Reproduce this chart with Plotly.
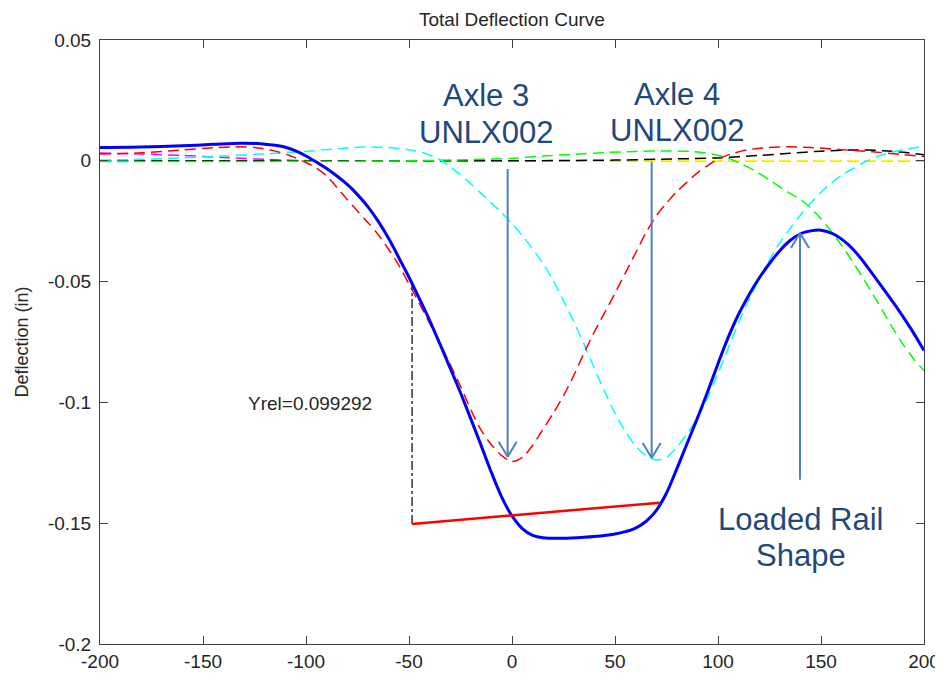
import plotly.graph_objects as go

# ---------------- data ----------------
total_x = [-200, -180, -160, -145, -132, -122, -115, -110, -105, -100, -95, -90, -85, -80, -75, -70, -65,
           -60, -55, -50, -45, -40, -35, -30, -25, -20, -15, -10, -5, 0, 5, 10, 15, 25, 35, 43, 50, 55,
           60, 65, 70, 75, 80, 85, 90, 95, 100, 105, 110, 115, 120, 125, 130, 135, 140, 145, 150, 156,
           163, 169, 175, 182, 188, 194, 200]
total_y = [0.0055, 0.0057, 0.0062, 0.0068, 0.0073, 0.0071, 0.0064, 0.0056, 0.0041, 0.0020, -0.0005,
           -0.0032, -0.0063, -0.0098, -0.0140, -0.0190, -0.0250, -0.0320, -0.0400, -0.0482, -0.0570,
           -0.0660, -0.0758, -0.0858, -0.0960, -0.1068, -0.1178, -0.1290, -0.1392, -0.1470, -0.1522,
           -0.1550, -0.1560, -0.1562, -0.1558, -0.1553, -0.1545, -0.1535, -0.1520, -0.1493, -0.1448,
           -0.1375, -0.1275, -0.1170, -0.1065, -0.0955, -0.0840, -0.0730, -0.0635, -0.0555, -0.0485,
           -0.0425, -0.0372, -0.0330, -0.0302, -0.0290, -0.0287, -0.0303, -0.0345, -0.0400, -0.0468,
           -0.0550, -0.0622, -0.0700, -0.0785]

axle3_x = [-200, -180, -160, -145, -135, -125, -115, -108, -100, -95, -90, -85, -80, -75, -70, -65, -60,
           -55, -50, -45, -40, -35, -30, -25, -20, -15, -10, -5, 0, 5, 10, 15, 20, 25, 30, 35, 40, 45,
           50, 55, 60, 65, 70, 75, 80, 85, 90, 95, 100, 107, 114, 124, 134, 145, 160, 175, 190, 200]
axle3_y = [0.0028, 0.0033, 0.0045, 0.0054, 0.0058, 0.0055, 0.0040, 0.0022, -0.0007, -0.0030, -0.0062,
           -0.0110, -0.0160, -0.0208, -0.0255, -0.0305, -0.0365, -0.0432, -0.0510, -0.0590, -0.0672,
           -0.0755, -0.0843, -0.0933, -0.1030, -0.1115, -0.1175, -0.1220, -0.1245, -0.1228, -0.1178,
           -0.1112, -0.1045, -0.0972, -0.0888, -0.0795, -0.0708, -0.0628, -0.0548, -0.0465, -0.0382,
           -0.0298, -0.0228, -0.0175, -0.0128, -0.0088, -0.0050, -0.0020, 0.0008, 0.0030, 0.0045,
           0.0055, 0.0058, 0.0055, 0.0046, 0.0037, 0.0026, 0.0018]

axle4_x = [-200, -180, -160, -140, -120, -100, -85, -72, -60, -50, -42, -35, -30, -25, -20, -15, -10,
           -5, 0, 5, 10, 15, 20, 25, 30, 35, 40, 45, 50, 55, 60, 65, 70, 75, 80, 85, 90, 95, 100, 105,
           110, 115, 120, 125, 130, 135, 140, 145, 150, 155, 160, 166, 172, 178, 184, 191, 200]
axle4_y = [0.0003, 0.0006, 0.0012, 0.0020, 0.0029, 0.0039, 0.0050, 0.0057, 0.0055, 0.0046, 0.0030,
           0.0005, -0.0025, -0.0058, -0.0095, -0.0135, -0.0175, -0.0215, -0.0260, -0.0310, -0.0365,
           -0.0425, -0.0495, -0.0580, -0.0665, -0.0760, -0.0860, -0.0955, -0.1045, -0.1120, -0.1180,
           -0.1220, -0.1238, -0.1228, -0.1185, -0.1130, -0.1065, -0.0980, -0.0880, -0.0775, -0.0670,
           -0.0575, -0.0490, -0.0410, -0.0340, -0.0280, -0.0225, -0.0175, -0.0130, -0.0092, -0.0060,
           -0.0030, -0.0002, 0.0020, 0.0035, 0.0048, 0.0060]

axle5_x = [-200, -150, -100, -50, -20, 0, 15, 30, 45, 60, 75, 88, 97, 105, 112, 119, 126, 133, 140, 145,
           150, 155, 160, 165, 170, 175, 180, 185, 190, 195, 200]
axle5_y = [-0.0003, -0.0003, -0.0002, 0.0000, 0.0005, 0.0010, 0.0020, 0.0027, 0.0034, 0.0039, 0.0041,
           0.0038, 0.0028, 0.0010, -0.0015, -0.0047, -0.0085, -0.0125, -0.0160, -0.0195, -0.0240,
           -0.0292, -0.0350, -0.0413, -0.0480, -0.0550, -0.0622, -0.0695, -0.0762, -0.0820, -0.0868]

black_x = [-200, -100, 0, 50, 80, 100, 120, 135, 150, 165, 180, 190, 200]
black_y = [0.0, 0.0, 0.0, 0.0003, 0.0008, 0.0012, 0.0022, 0.0031, 0.0040, 0.0045, 0.0042, 0.0035, 0.0025]

yellow_x = [-200, -100, 0, 100, 200]
yellow_y = [0.0, 0.0, 0.0, 0.0, 0.0]

magenta_x = [-200, -180, -160, -140, -120, -100, -50, 0, 100, 200]
magenta_y = [0.0032, 0.0028, 0.0022, 0.0014, 0.0006, 0.0001, 0.0, 0.0, 0.0, 0.0]

yrel_x = [-48.5, -48.5]
yrel_y = [-0.1503, -0.0514]
chord_x = [-48.5, 71.8]
chord_y = [-0.1503, -0.1415]
yrel_text = "Yrel=0.099292"

x_ticks = [-200, -150, -100, -50, 0, 50, 100, 150, 200]
x_tick_labels = ["-200", "-150", "-100", "-50", "0", "50", "100", "150", "200"]
y_ticks = [0.05, 0, -0.05, -0.1, -0.15, -0.2]
y_tick_labels = ["0.05", "0", "-0.05", "-0.1", "-0.15", "-0.2"]

# ---------------- figure ----------------
DASH = "11px,6px"
FONT = "Liberation Sans, Arial, sans-serif"
fig = go.Figure()

def dashed(x, y, color):
    fig.add_trace(go.Scatter(x=x, y=y, mode="lines",
                             line=dict(color=color, width=1.5, dash=DASH, shape="spline", smoothing=0.8),
                             hoverinfo="skip", showlegend=False))

dashed(magenta_x, magenta_y, "#FF00FF")
dashed(yellow_x, yellow_y, "#FFFF00")
dashed(black_x, black_y, "#000000")
dashed(axle5_x, axle5_y, "#00FF00")
dashed(axle4_x, axle4_y, "#00FFFF")
dashed(axle3_x, axle3_y, "#FF0000")

fig.add_trace(go.Scatter(x=yrel_x, y=yrel_y, mode="lines",
                         line=dict(color="#333333", width=1.5, dash="dashdot"), showlegend=False))
fig.add_trace(go.Scatter(x=total_x, y=total_y, mode="lines",
                         line=dict(color="#0000FF", width=3, shape="spline", smoothing=0.8), showlegend=False))
fig.add_trace(go.Scatter(x=chord_x, y=chord_y, mode="lines",
                         line=dict(color="#FF0000", width=2.5), showlegend=False))

TXT = "#1F497D"
ARR = "#4F81BD"
big = dict(family=FONT, size=31, color=TXT)

def label(x, y, t):
    fig.add_annotation(x=x, y=y, text=t, showarrow=False, font=big, xanchor="center", yanchor="middle")

label(-12.6, 0.0270, "Axle 3")
label(-12.6, 0.0118, "UNLX002")
label(80.1, 0.0274, "Axle 4")
label(80.1, 0.0126, "UNLX002")
label(140.2, -0.1485, "Loaded Rail")
label(140.2, -0.1632, "Shape")

def arrow(x, y_tail, y_tip):
    up = 1 if y_tip < y_tail else -1  # arms go back toward the tail
    fig.add_shape(type="line", x0=x, x1=x, y0=y_tail, y1=y_tip, xref="x", yref="y",
                  line=dict(color=ARR, width=2))
    for side in (-9, 9):
        fig.add_shape(type="line", xref="x", yref="y", xsizemode="pixel", ysizemode="pixel",
                      xanchor=x, yanchor=y_tip, x0=0, y0=0, x1=side, y1=15 * up,
                      line=dict(color=ARR, width=2))

arrow(-2.1, -0.0034, -0.1225)
arrow(67.8, -0.0005, -0.1230)
arrow(139.8, -0.1320, -0.0299)

fig.add_annotation(x=-98, y=-0.1005, text=yrel_text, showarrow=False,
                   font=dict(family=FONT, size=19, color="#262626"))

axis_common = dict(showline=True, linecolor="#404040", linewidth=1, mirror="allticks", ticks="inside",
                   ticklen=8, tickcolor="#404040", tickwidth=1, showgrid=False, zeroline=False,
                   automargin=False,
                   tickfont=dict(family=FONT, size=19, color="#262626"))

fig.update_xaxes(range=[-200, 200], tickvals=x_ticks, ticktext=x_tick_labels, ticklabelstandoff=0, **axis_common)
fig.update_yaxes(range=[-0.2, 0.05], tickvals=y_ticks, ticktext=y_tick_labels, ticklabelstandoff=4,
                 title=dict(text="Deflection (in)", standoff=14,
                            font=dict(family=FONT, size=18, color="#262626")),
                 **axis_common)

# the page adds an 8px body margin; the figure is offset by it inside the 943x675 window
fig.update_layout(
    width=935, height=667,
    margin=dict(l=92, r=19, t=32, b=31),
    paper_bgcolor="white", plot_bgcolor="white",
    title=dict(text="Total Deflection Curve", x=0.539, xanchor="center", y=0.9835, yanchor="middle",
               yref="container", pad=dict(t=0, b=0),
               font=dict(family=FONT, size=19, color="#262626")),
    showlegend=False,
)

fig.write_html("out.html")
